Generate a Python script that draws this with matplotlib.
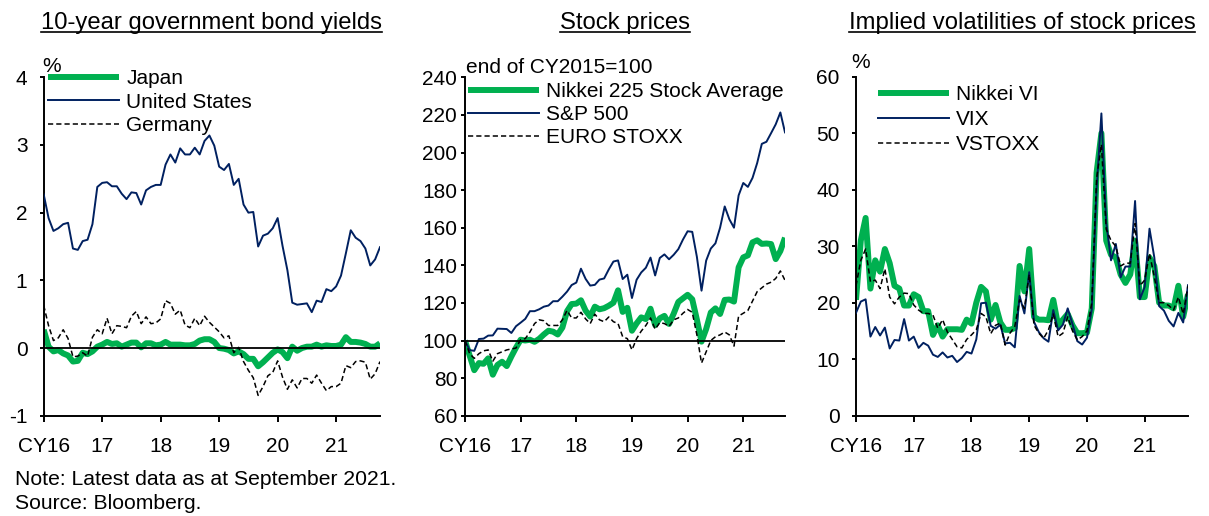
import numpy as np
import matplotlib
matplotlib.use("Agg")
import matplotlib.pyplot as plt
from matplotlib.lines import Line2D

plt.rcParams['font.family'] = ['Liberation Sans', 'DejaVu Sans']
plt.rcParams['axes.unicode_minus'] = False

# month-end data, Dec 2015 ... Sep 2021 (70 points)
year_labels = ['CY16', '17', '18', '19', '20', '21']

jgb = [0.27, 0.02, -0.05, -0.03, -0.08, -0.11, -0.20, -0.19, -0.07, -0.09, -0.05, 0.02, 0.05,
       0.09, 0.06, 0.07, 0.02, 0.05, 0.08, 0.08, 0.01, 0.07, 0.07, 0.04, 0.05,
       0.09, 0.05, 0.05, 0.05, 0.04, 0.04, 0.06, 0.11, 0.13, 0.13, 0.09, 0.00,
       -0.01, -0.03, -0.08, -0.05, -0.09, -0.16, -0.16, -0.27, -0.21, -0.14, -0.07, -0.02,
       -0.06, -0.15, 0.02, -0.04, 0.00, 0.02, 0.02, 0.05, 0.02, 0.04, 0.03, 0.03,
       0.05, 0.16, 0.09, 0.09, 0.08, 0.06, 0.02, 0.02, 0.07]
ust = [2.27, 1.92, 1.73, 1.77, 1.83, 1.85, 1.47, 1.45, 1.58, 1.60, 1.83, 2.38, 2.44,
       2.45, 2.39, 2.39, 2.28, 2.20, 2.30, 2.29, 2.12, 2.33, 2.38, 2.41, 2.41,
       2.71, 2.86, 2.74, 2.95, 2.86, 2.86, 2.96, 2.86, 3.06, 3.14, 2.99, 2.68,
       2.63, 2.72, 2.41, 2.50, 2.12, 2.00, 2.01, 1.50, 1.66, 1.69, 1.77, 1.92,
       1.51, 1.15, 0.67, 0.64, 0.65, 0.66, 0.53, 0.70, 0.68, 0.87, 0.84, 0.91,
       1.07, 1.40, 1.74, 1.63, 1.58, 1.47, 1.22, 1.31, 1.49]
bund = [0.63, 0.33, 0.11, 0.15, 0.27, 0.14, -0.13, -0.12, -0.07, -0.12, 0.16, 0.27, 0.21,
        0.44, 0.21, 0.33, 0.32, 0.30, 0.47, 0.54, 0.36, 0.46, 0.36, 0.37, 0.43,
        0.70, 0.66, 0.50, 0.56, 0.34, 0.30, 0.44, 0.33, 0.47, 0.38, 0.31, 0.24,
        0.15, 0.18, -0.07, 0.01, -0.20, -0.33, -0.44, -0.70, -0.57, -0.41, -0.36, -0.19,
        -0.43, -0.61, -0.47, -0.59, -0.45, -0.45, -0.52, -0.40, -0.52, -0.63, -0.57, -0.57,
        -0.52, -0.26, -0.29, -0.20, -0.19, -0.21, -0.46, -0.38, -0.20]

nikkei = [100, 92.0, 84.2, 88.0, 87.6, 90.5, 81.8, 87.0, 88.7, 86.4, 91.5, 96.2, 100.4,
          100.0, 100.4, 99.3, 100.9, 103.2, 105.2, 104.7, 103.2, 106.9, 115.6, 119.4, 119.6,
          121.4, 115.9, 112.7, 118.0, 116.6, 117.2, 118.5, 120.1, 126.7, 115.2, 117.4, 105.2,
          109.1, 112.3, 111.4, 116.9, 108.2, 111.8, 113.1, 108.8, 114.3, 120.5, 122.4, 124.3,
          121.9, 111.1, 99.4, 106.1, 114.9, 117.1, 114.1, 121.6, 121.8, 120.7, 138.9, 144.2,
          145.3, 152.2, 153.3, 151.4, 151.6, 151.3, 143.3, 147.6, 154.7]
spx = [100, 94.9, 94.5, 100.8, 101.0, 102.6, 102.7, 106.3, 106.2, 106.1, 104.0, 107.6, 109.5,
       111.5, 115.6, 115.6, 116.6, 118.0, 118.6, 120.9, 120.9, 123.3, 126.0, 129.5, 130.8,
       138.2, 132.8, 129.2, 129.6, 132.4, 133.0, 137.8, 142.0, 142.6, 132.7, 135.0, 122.6,
       132.3, 136.2, 138.7, 144.1, 134.6, 143.9, 145.8, 143.2, 145.6, 148.6, 153.7, 158.1,
       157.8, 144.5, 126.5, 142.5, 148.9, 151.7, 160.0, 171.3, 164.5, 160.0, 177.2, 183.8,
       181.7, 186.5, 194.4, 204.6, 205.7, 210.3, 215.0, 221.3, 210.7]
stoxx = [100, 93, 90.5, 93, 94.5, 95, 89, 93, 94, 95, 95.5, 96, 100.5,
         101, 104.5, 109, 111, 110.5, 108, 108, 108, 111, 116, 112, 112,
         115, 111.5, 109, 114, 111, 110, 112.5, 110, 109, 102, 101, 95,
         101, 105, 108, 112, 106, 109.5, 109, 107.5, 111, 112, 114.5, 116.5,
         115, 103, 88, 94, 100, 102, 103, 104.5, 103, 97, 113, 114.5,
         116, 121, 126, 128, 130, 131, 133, 137, 132]

nikkei_vi = [20.5, 31, 35, 22.5, 27.5, 25.5, 29.5, 27, 23, 22.5, 19.5, 19.5, 21.5,
             21, 18.5, 18.5, 14.3, 16, 14, 15.3, 15.3, 15.3, 15.2, 17, 16.3,
             20, 22.8, 22, 17, 19.6, 16.5, 15.2, 15.2, 15.5, 26.5, 22, 29.5,
             17.5, 17, 17, 16.9, 20.5, 16, 17, 18, 16, 14.6, 14.6, 14.7,
             19, 43, 50, 31, 28.5, 28, 25, 23.5, 25, 31, 21, 21,
             28, 26.5, 20, 19.5, 19.5, 19, 23, 17.5, 21.5]
vix = [18.2, 20.2, 20.6, 14.0, 15.7, 14.2, 15.6, 11.9, 13.4, 13.3, 17.1, 13.3, 14.0,
       12.0, 12.9, 12.4, 10.8, 10.4, 11.2, 10.3, 10.6, 9.5, 10.2, 11.3, 11.0,
       13.5, 19.9, 20.0, 15.9, 15.4, 16.1, 12.8, 12.9, 12.1, 21.2, 18.1, 25.4,
       16.6, 14.8, 13.7, 13.1, 18.7, 15.1, 16.1, 19.0, 16.2, 13.2, 12.6, 13.8,
       18.8, 40.1, 53.5, 34.2, 27.5, 30.4, 24.5, 26.4, 26.4, 38.0, 20.6, 22.8,
       33.1, 28.0, 19.4, 18.6, 16.8, 15.8, 18.2, 16.5, 23.1]
vstoxx = [23, 27.5, 29.5, 23.7, 24, 22.5, 26, 21, 19.8, 21, 21.7, 21.6, 19.6,
          18.7, 18.1, 18.1, 17.8, 15.5, 17, 14.8, 13.5, 12.2, 12, 13.5, 14.3,
          15.2, 18.1, 17.5, 14.5, 16, 16.4, 12.5, 14.6, 15.8, 20.5, 19, 25,
          16, 14.6, 13.7, 15.2, 18, 14, 14.6, 17.5, 15, 13.4, 14, 15,
          20, 42, 48, 33, 31, 30, 26.5, 27, 27, 34, 23, 24,
          28.7, 24.6, 20, 20, 19.5, 18.7, 21, 18, 23]

GREEN = '#00b050'
NAVY = '#002060'
FS = 15
W, H = 1209, 516

fig = plt.figure(figsize=(W / 100, H / 100), dpi=100)
x = np.arange(len(jgb))


def px_box(left, right, top, bottom):
    return [left / W, 1 - bottom / H, (right - left) / W, (bottom - top) / H]


panels = [
    dict(box=px_box(43.7, 380, 77.3, 415.7), title='10-year government bond yields',
         series=[jgb, ust, bund], labels=['Japan', 'United States', 'Germany'],
         ylim=(-1, 4), yticks=[-1, 0, 1, 2, 3, 4], hline=0, unit='%', unit_xy=(42, 72),
         leg_xy=(48, 69), ypad=8.5, lspace=0.22),
    dict(box=px_box(465, 785, 77.3, 415.7), title='Stock prices',
         series=[nikkei, spx, stoxx], labels=['Nikkei 225 Stock Average', 'S&P 500', 'EURO STOXX'],
         ylim=(60, 240), yticks=list(range(60, 241, 20)), hline=100, unit='end of CY2015=100',
         unit_xy=(466, 73), leg_xy=(468, 82), ypad=2.5, lspace=0.2),
    dict(box=px_box(856, 1188, 76.7, 415.7), title='Implied volatilities of stock prices',
         series=[nikkei_vi, vix, vstoxx], labels=['Nikkei VI', 'VIX', 'VSTOXX'],
         ylim=(0, 60), yticks=list(range(0, 61, 10)), hline=None, unit='%', unit_xy=(851, 68),
         leg_xy=(878, 85), ypad=8.5, lspace=0.3),
]

titles = []
for p in panels:
    ax = fig.add_axes(p['box'])
    a, b, c = p['series']
    ax.plot(x, a, color=GREEN, lw=4.3, solid_capstyle='butt', label=p['labels'][0], zorder=2)
    ax.plot(x, b, color=NAVY, lw=1.4, label=p['labels'][1], zorder=3)
    ax.plot(x, c, color='black', lw=1.1, ls=(0, (3.4, 2.0)), label=p['labels'][2], zorder=4)
    if p['hline'] is not None:
        ax.axhline(p['hline'], color='black', lw=1.3, zorder=5)
    ax.set_xlim(0, 69)
    ax.set_ylim(*p['ylim'])
    ax.set_yticks(p['yticks'])
    ax.set_xticks(np.arange(0, 61, 12))
    ax.set_xticklabels(year_labels)
    for s in ['top', 'right']:
        ax.spines[s].set_visible(False)
    for s in ['left', 'bottom']:
        ax.spines[s].set_linewidth(1.4)
    ax.tick_params(axis='y', direction='out', length=3.2, width=1.4, pad=p['ypad'], labelsize=FS)
    ax.tick_params(axis='x', direction='out', length=4.3, width=1.4, pad=11, labelsize=FS)
    ax.patch.set_visible(False)
    leg = ax.legend(loc='upper left', bbox_to_anchor=(p['leg_xy'][0] / W, 1 - p['leg_xy'][1] / H),
                    bbox_transform=fig.transFigure, frameon=False, fontsize=FS,
                    handlelength=3.4, handletextpad=0.35, labelspacing=p['lspace'],
                    borderpad=0, borderaxespad=0)
    fig.text(p['unit_xy'][0] / W, 1 - p['unit_xy'][1] / H, p['unit'], fontsize=FS,
             ha='left', va='baseline')
    cx = p['box'][0] + p['box'][2] / 2
    t = fig.text(cx, 1 - 29.3 / H, p['title'], fontsize=17.2, ha='center', va='baseline')
    titles.append(t)

fig.text(15 / W, 1 - 485 / H, 'Note: Latest data as at September 2021.', fontsize=15.2,
         ha='left', va='baseline')
fig.text(15 / W, 1 - 509 / H, 'Source: Bloomberg.', fontsize=15.2, ha='left', va='baseline')

# underline the panel titles
fig.canvas.draw()
r = fig.canvas.get_renderer()
for t in titles:
    bb = t.get_window_extent(r).transformed(fig.transFigure.inverted())
    yline = 1 - 31.8 / H
    fig.add_artist(Line2D([bb.x0, bb.x1], [yline, yline], transform=fig.transFigure,
                          color='black', lw=1.2))

fig.savefig('out.png', dpi=100)
